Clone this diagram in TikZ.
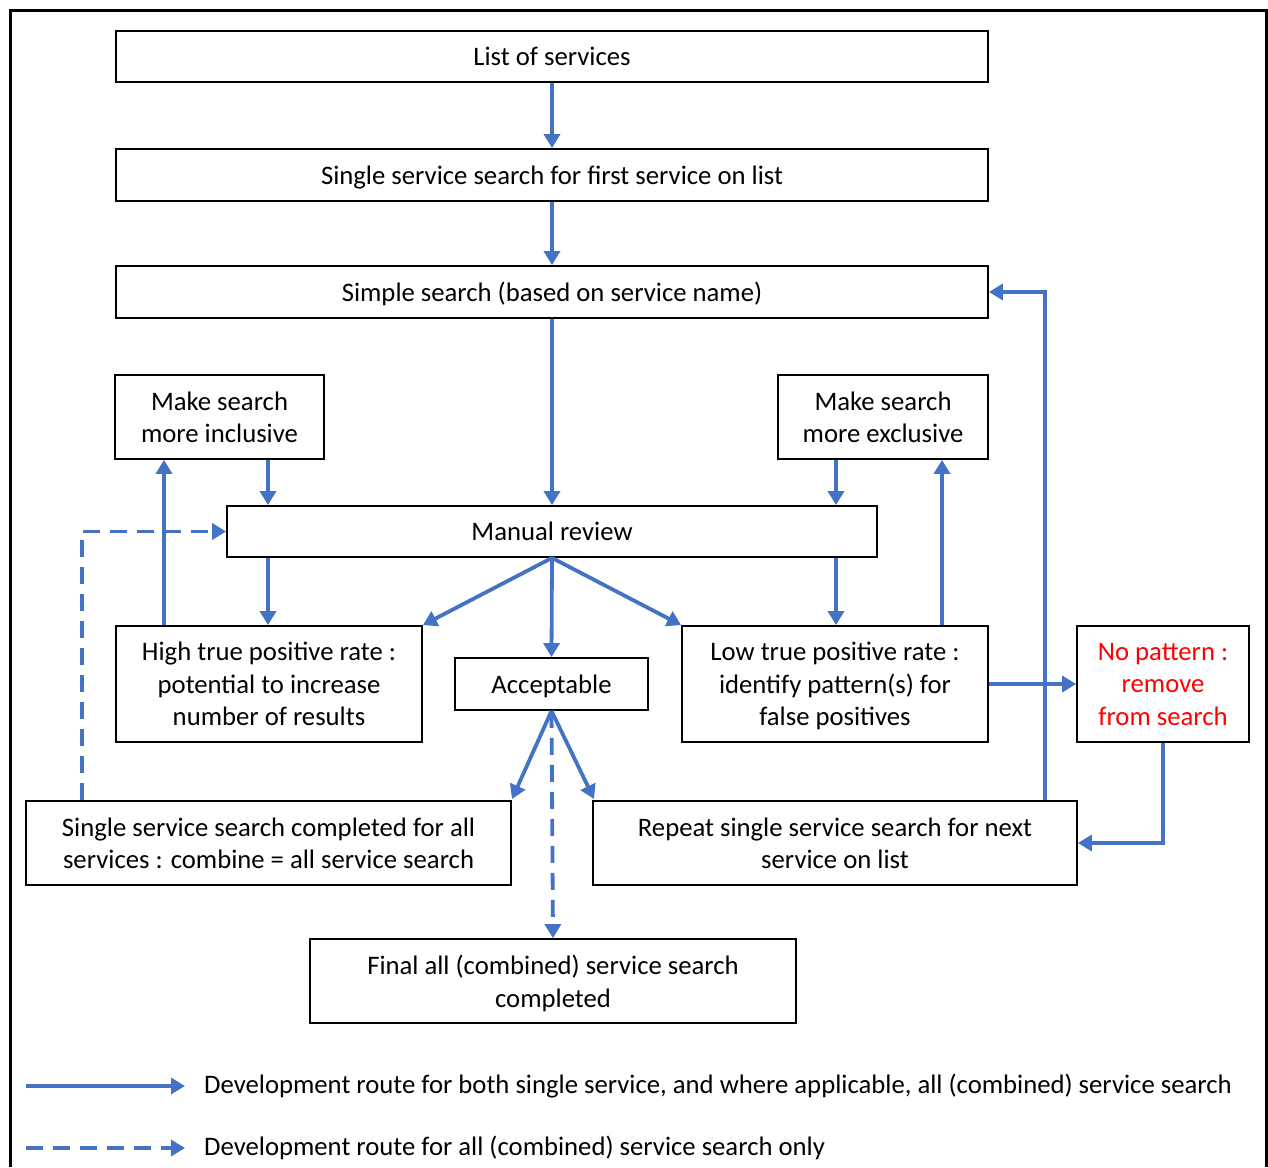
\documentclass[tikz,border=0pt]{standalone}
\usepackage{fontspec}
\setmainfont{Carlito}
\usetikzlibrary{arrows.meta}
\definecolor{flow}{HTML}{4472C4}
\definecolor{nored}{HTML}{FF0000}
\tikzset{
  box/.style={draw=black, line width=1.8pt, rectangle, align=center, inner sep=0pt,
    text depth=0pt, font=\fontsize{26.7}{32.5}\selectfont},
  conn/.style={draw=flow, line width=3.8pt, -{Triangle[length=14pt,width=16pt]}},
  dconn/.style={conn, dash pattern=on 17pt off 10pt},
  legtext/.style={anchor=west, inner sep=0pt, font=\fontsize{26.7}{30}\selectfont},
}
\begin{document}
\begin{tikzpicture}[x=1pt,y=-1pt]
\useasboundingbox (0,0) rectangle (1268,1167);
\draw[line width=3pt] (10,1167) -- (10,10) -- (1266,10) -- (1266,1167);

\node[box, minimum width=872pt, minimum height=51pt] (list) at (552,56.5) {List of services};
\node[box, minimum width=872pt, minimum height=52pt] (single) at (552,175) {Single service search for first service on list};
\node[box, minimum width=872pt, minimum height=52pt] (simple) at (552,292) {Simple search (based on service name)};
\node[box, minimum width=209pt, minimum height=84pt] (inc) at (219.5,417) {Make search\\more inclusive};
\node[box, minimum width=210pt, minimum height=84pt] (exc) at (883,417) {Make search\\more exclusive};
\node[box, minimum width=650pt, minimum height=51pt] (manual) at (552,531.5) {Manual review};
\node[box, minimum width=306pt, minimum height=116pt] (high) at (269,684) {High true positive rate :\\potential to increase\\number of results};
\node[box, minimum width=193pt, minimum height=52pt] (acc) at (551.5,684) {Acceptable};
\node[box, minimum width=306pt, minimum height=116pt] (low) at (835,684) {Low true positive rate :\\identify pattern(s) for\\false positives};
\node[box, minimum width=172pt, minimum height=116pt, text=nored] (nop) at (1163,684) {No pattern :\\remove\\from search};
\node[box, minimum width=485pt, minimum height=84pt] (comp) at (268.5,843) {Single service search completed for all\\services : combine = all service search};
\node[box, minimum width=484pt, minimum height=84pt] (rep) at (835,843) {Repeat single service search for next\\service on list};
\node[box, minimum width=486pt, minimum height=84pt] (final) at (553,981) {Final all (combined) service search\\completed};

\draw[conn] (list.south) -- (single.north);
\draw[conn] (single.south) -- (simple.north);
\draw[conn] (simple.south) -- (manual.north);
\draw[conn] (268,0 |- inc.south) -- (268,0 |- manual.north);
\draw[conn] (268,0 |- manual.south) -- (268,0 |- high.north);
\draw[conn] (164,0 |- high.north) -- (164,0 |- inc.south);
\draw[conn] (836,0 |- exc.south) -- (836,0 |- manual.north);
\draw[conn] (836,0 |- manual.south) -- (836,0 |- low.north);
\draw[conn] (942,0 |- low.north) -- (942,0 |- exc.south);
\draw[conn] (manual.south) -- (acc.north);
\draw[conn] (manual.south) -- (high.north east);
\draw[conn] (manual.south) -- (low.north west);
\draw[conn] (acc.south) -- (512,799);
\draw[conn] (acc.south) -- (594,799);
\draw[dconn] (acc.south) -- (final.north);
\draw[conn] (low.east) -- (nop.west);
\draw[conn] (nop.south) |- (rep.east);
\draw[conn] (1045,0 |- rep.north) |- (simple.east);
\draw[dconn] (82,0 |- comp.north) |- (manual.west);

\coordinate (la) at (26,1086);
\coordinate (lb) at (185,1086);
\coordinate (lc) at (26,1148);
\coordinate (ld) at (185,1148);
\draw[conn] (la) -- (lb);
\draw[dconn] (lc) -- (ld);
\node[legtext] (t1) at (204,1086) {Development route for both single service, and where applicable, all (combined) service search};
\node[legtext] (t2) at (204,1148) {Development route for all (combined) service search only};
\end{tikzpicture}
\end{document}
